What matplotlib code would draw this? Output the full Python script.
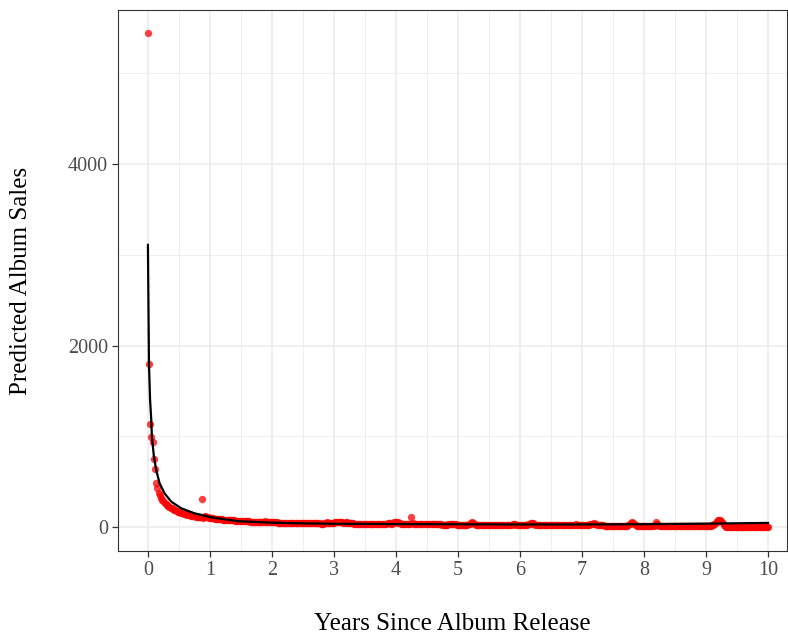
import numpy as np
import matplotlib.pyplot as plt
from matplotlib.ticker import MultipleLocator

plt.rcParams['font.family'] = ['Liberation Serif', 'DejaVu Serif']

# weekly sales, one list per year since release (52 weeks each)
sales_by_year = [
    [5440, 1800, 1140, 995, 940, 750, 640, 490, 425, 380, 350, 325, 300, 282, 268, 255,
     242, 232, 222, 213, 205, 198, 190, 184, 177, 170, 165, 160, 155, 150, 146, 142,
     138, 135, 132, 128, 125, 122, 120, 117, 114, 112, 110, 108, 106, 308, 104, 112,
     118, 115, 108, 102],
    [100, 98, 96, 94, 92, 91, 89, 88, 86, 85, 84, 82, 81, 80, 79, 78, 76, 75, 74, 73,
     72, 71, 70, 69, 68, 67, 66, 66, 65, 64, 63, 62, 62, 61, 60, 60, 59, 58, 58, 57,
     56, 56, 55, 55, 54, 58, 62, 60, 56, 54, 53, 52],
    [52, 51, 51, 50, 50, 49, 49, 48, 48, 47, 47, 47, 46, 46, 45, 45, 45, 44, 44, 44,
     43, 43, 43, 42, 42, 42, 42, 41, 41, 41, 41, 40, 40, 40, 40, 40, 39, 39, 39, 39,
     39, 38, 38, 38, 40, 45, 50, 48, 44, 41, 40, 39],
    [48, 52, 50, 55, 53, 50, 54, 52, 49, 47, 51, 53, 48, 45, 42, 40, 39, 38, 38, 37,
     37, 37, 36, 36, 36, 36, 35, 35, 35, 35, 35, 34, 34, 34, 34, 34, 34, 33, 33, 33,
     33, 33, 33, 34, 36, 40, 44, 42, 38, 36, 50, 56],
    [52, 47, 58, 42, 38, 35, 34, 33, 33, 33, 32, 32, 36, 110, 40, 33, 31, 31, 30, 30,
     30, 30, 30, 29, 29, 29, 29, 29, 29, 29, 28, 28, 28, 28, 28, 28, 28, 28, 28, 27,
     27, 27, 27, 27, 28, 30, 34, 36, 32, 29, 28, 27],
    [27, 27, 27, 26, 26, 26, 26, 26, 26, 28, 34, 45, 58, 44, 32, 27, 26, 26, 26, 25,
     25, 25, 25, 25, 25, 25, 25, 25, 25, 24, 24, 24, 24, 24, 24, 24, 24, 24, 24, 24,
     24, 24, 24, 24, 25, 27, 30, 32, 29, 26, 25, 24],
    [24, 24, 24, 24, 24, 25, 27, 32, 38, 44, 47, 40, 30, 25, 23, 23, 23, 23, 23, 23,
     23, 22, 22, 22, 22, 22, 22, 22, 22, 22, 22, 22, 22, 21, 21, 21, 21, 21, 21, 21,
     21, 21, 21, 21, 22, 24, 27, 28, 25, 22, 21, 21],
    [21, 21, 21, 21, 21, 22, 24, 28, 33, 37, 40, 36, 28, 22, 20, 20, 19, 18, 17, 16,
     15, 15, 14, 14, 14, 13, 13, 13, 13, 13, 12, 12, 12, 12, 12, 12, 12, 12, 14, 18,
     30, 45, 58, 45, 30, 18, 14, 13, 13, 13, 13, 13],
    [13, 12, 12, 12, 12, 12, 12, 12, 14, 25, 50, 38, 18, 12, 11, 11, 11, 11, 11, 11,
     11, 11, 10, 10, 10, 10, 10, 10, 10, 10, 10, 10, 10, 10, 10, 10, 10, 10, 10, 10,
     10, 10, 10, 10, 10, 10, 10, 10, 10, 10, 11, 11],
    [11, 11, 12, 12, 14, 18, 25, 35, 48, 62, 72, 77, 75, 62, 40, 18, 8, 5, 5, 5,
     5, 4, 4, 4, 4, 4, 4, 4, 4, 4, 4, 4, 4, 4, 4, 3, 3, 3, 3, 3,
     3, 3, 3, 3, 3, 3, 3, 3, 3, 3, 3, 3, 2],
]

# fitted curve
fit_years = [0.0, 0.017, 0.035, 0.054, 0.064, 0.097, 0.134, 0.188, 0.268, 0.376,
             0.537, 0.751, 1.02, 1.45, 2.0, 2.5, 3.0, 4.0, 5.0, 6.0, 7.0, 8.0, 9.0, 10.0]
fit_sales = [3110, 1800, 1400, 1180, 995, 775, 628, 482, 371, 279,
             206, 151, 107, 64, 48, 40, 36, 32, 30, 28, 28, 31, 37, 45]

years = []
sales = []
for y, vals in enumerate(sales_by_year):
    years.extend(y + np.arange(len(vals)) / 52)
    sales.extend(vals)

fig = plt.figure(figsize=(7.88, 6.34), dpi=100)
ax = fig.add_axes([0.1497, 0.131, 0.849, 0.853])

ax.scatter(years, sales, s=28, color='#FF0000', alpha=0.75, linewidths=0, zorder=3)
ax.plot(fit_years, fit_sales, color='black', lw=1.6, zorder=4)

ax.set_xlim(-0.483, 10.306)
ax.set_ylim(-264, 5697)
ax.xaxis.set_major_locator(MultipleLocator(1))
ax.xaxis.set_minor_locator(MultipleLocator(0.5))
ax.yaxis.set_major_locator(MultipleLocator(2000))
ax.yaxis.set_minor_locator(MultipleLocator(1000))

ax.grid(which='major', color='#EBEBEB', lw=1.1, zorder=0)
ax.grid(which='minor', color='#EBEBEB', lw=0.55, zorder=0)
ax.set_axisbelow(True)
for s in ax.spines.values():
    s.set_color('#333333')
    s.set_linewidth(0.8)
ax.tick_params(which='major', length=4, width=0.9, color='#333333',
               labelcolor='#4D4D4D', labelsize=14.5, pad=3)
ax.tick_params(which='minor', length=0)

ax.set_xlabel('Years Since Album Release', fontsize=18, labelpad=24)
ax.set_ylabel('Predicted Album Sales', fontsize=18, labelpad=26)

fig.savefig('out.png', dpi=100)
